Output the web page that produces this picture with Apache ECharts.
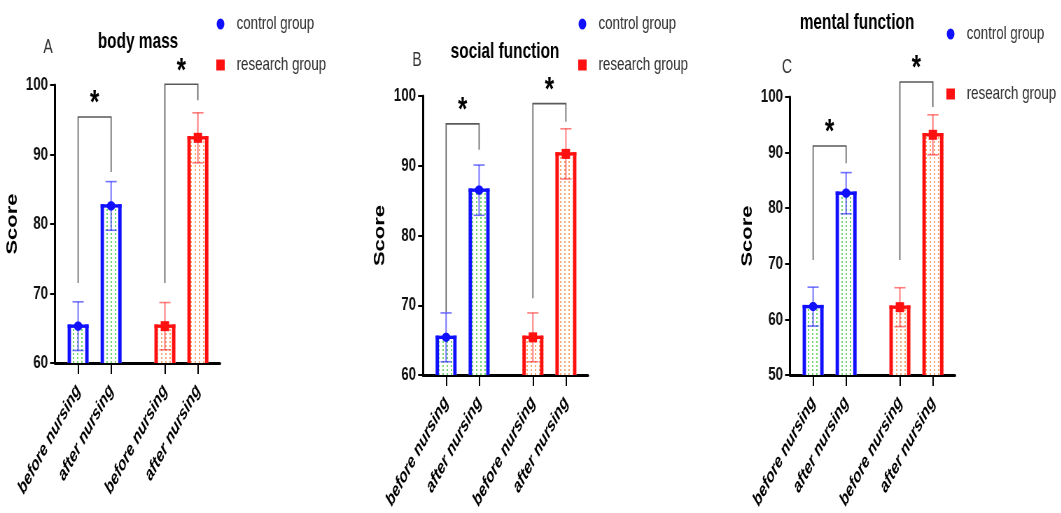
<!DOCTYPE html>
<html>
<head>
<meta charset="utf-8">
<script src="https://cdn.jsdelivr.net/npm/echarts@6/dist/echarts.min.js"></script>
<style>
  html, body { margin: 0; padding: 0; background: #fff; overflow: hidden; }
  #chart { width: 1516px; height: 513px; transform: scaleX(0.7); transform-origin: 0 0; }
</style>
</head>
<body>
<div id="chart"></div>
<script>
// ---------- data ----------
const categories = ['before nursing', 'after nursing', 'before nursing', 'after nursing'];
const panelTitles = ['body mass', 'social function', 'mental function'];
const panelLetters = ['A', 'B', 'C'];
const groupNames = ['control group', 'research group'];
const yAxisName = 'Score';
const yMins = [60, 60, 50];
const yMaxs = [100, 100, 100];
const yInterval = 10;

const bodyMassControl = [65.3, 82.6];
const bodyMassControlSD = [3.5, 3.5];
const bodyMassResearch = [65.3, 92.4];
const bodyMassResearchSD = [3.4, 3.6];

const socialControl = [65.4, 86.5];
const socialControlSD = [3.5, 3.6];
const socialResearch = [65.4, 91.7];
const socialResearchSD = [3.5, 3.6];

const mentalControl = [62.3, 82.7];
const mentalControlSD = [3.5, 3.7];
const mentalResearch = [62.2, 93.2];
const mentalResearchSD = [3.5, 3.6];

// significance brackets: [from category, to category, top, left end, right end]
const bodyMassBrackets = [[0, 1, 95.4, 71.5, 87.5], [2, 3, 100.1, 71.5, 97.8]];
const socialBrackets = [[0, 1, 96.0, 69.0, 92.3], [2, 3, 98.9, 71.0, 96.3]];
const mentalBrackets = [[0, 1, 91.2, 70.7, 88.1], [2, 3, 102.7, 70.7, 98.2]];
const sigMark = '*';

// ---------- layout / style ----------
const S = 0.7;                       // horizontal compression of the reference
const FONT = '"Liberation Sans", Arial, sans-serif';
const slotPos = [0.7, 1.7, 3.33, 4.33];  // x slot of each category on a 0..5 axis
const gridRects = [
  { left: 55 / S, top: 85, width: 165 / S, height: 278 },
  { left: 423 / S, top: 96, width: 165 / S, height: 279 },
  { left: 790 / S, top: 97, width: 165 / S, height: 278 }
];
const BLUE = '#1010ff', RED = '#ff1010';
const ERR_BLUE = 'rgba(40,40,255,0.65)', ERR_RED = 'rgba(255,40,40,0.6)';

function makePattern(color) {
  const c = document.createElement('canvas');
  c.width = 6; c.height = 4;
  const g = c.getContext('2d');
  g.fillStyle = '#ffffff'; g.fillRect(0, 0, 6, 4);
  g.fillStyle = color; g.fillRect(2, 1, 2, 2);
  return { image: c, repeat: 'repeat' };
}
const greenDots = makePattern('#6fd86f');
const orangeDots = makePattern('#f6a870');

const panels = [
  { control: bodyMassControl, controlSD: bodyMassControlSD, research: bodyMassResearch, researchSD: bodyMassResearchSD, brackets: bodyMassBrackets },
  { control: socialControl, controlSD: socialControlSD, research: socialResearch, researchSD: socialResearchSD, brackets: socialBrackets },
  { control: mentalControl, controlSD: mentalControlSD, research: mentalResearch, researchSD: mentalResearchSD, brackets: mentalBrackets }
];

function barRenderer(yMin, color, errColor, pattern, marker) {
  return function (params, api) {
    const x = api.value(0), mean = api.value(1), sd = api.value(2);
    const top = api.coord([x, mean]);
    const base = api.coord([x, yMin]);
    const hi = api.coord([x, mean + sd]);
    const lo = api.coord([x, mean - sd]);
    const cx = top[0], hw = 15, bw = 3.4 / S, th = 3.4;
    const h = base[1] - top[1];
    const children = [
      { type: 'rect', shape: { x: cx - hw, y: top[1], width: 2 * hw, height: h }, style: { fill: pattern } },
      { type: 'line', shape: { x1: cx, y1: hi[1], x2: cx, y2: lo[1] }, style: { stroke: errColor, lineWidth: 2 } },
      { type: 'line', shape: { x1: cx - 8, y1: hi[1], x2: cx + 8, y2: hi[1] }, style: { stroke: errColor, lineWidth: 1.6 } },
      { type: 'line', shape: { x1: cx - 8, y1: lo[1], x2: cx + 8, y2: lo[1] }, style: { stroke: errColor, lineWidth: 1.6 } },
      { type: 'rect', shape: { x: cx - hw, y: top[1] - th / 2, width: bw, height: h + th / 2 }, style: { fill: color } },
      { type: 'rect', shape: { x: cx + hw - bw, y: top[1] - th / 2, width: bw, height: h + th / 2 }, style: { fill: color } },
      { type: 'rect', shape: { x: cx - hw, y: top[1] - th / 2, width: 2 * hw, height: th }, style: { fill: color } }
    ];
    if (marker === 'circle') {
      children.push({ type: 'ellipse', shape: { cx: cx, cy: top[1], rx: 6, ry: 4.6 }, style: { fill: color } });
    } else {
      children.push({ type: 'rect', shape: { x: cx - 6, y: top[1] - 5, width: 12, height: 10 }, style: { fill: color } });
    }
    return { type: 'group', children: children };
  };
}

function bracketRenderer(params, api) {
  const a = slotPos[api.value(0)], b = slotPos[api.value(1)];
  const topV = api.value(2), lb = api.value(3), rb = api.value(4);
  const p1 = api.coord([a, lb]), p2 = api.coord([a, topV]), p3 = api.coord([b, topV]), p4 = api.coord([b, rb]);
  return {
    type: 'group',
    children: [
      { type: 'polyline', shape: { points: [p1, p2, p3, p4] }, style: { stroke: '#5a5a5a', lineWidth: 1.6, fill: null } },
      { type: 'text', x: (p2[0] + p3[0]) / 2, y: p2[1] - 13,
        style: { text: sigMark, fill: '#000', font: 'bold 34px ' + FONT, textAlign: 'center', textVerticalAlign: 'middle' } }
    ]
  };
}

const grids = [], xAxes = [], yAxes = [], series = [], legends = [], graphics = [];
const legendTops = [9, 9, 19], legendGaps = [21, 21, 40], legendLefts = [304, 821, 1347];
const titlePos = [[138, 42], [505, 52], [857, 23]];
const letterPos = [[48, 47], [417, 60], [787, 67]];

panels.forEach(function (p, i) {
  grids.push(Object.assign({ outerBoundsMode: 'none', containLabel: false }, gridRects[i]));
  xAxes.push({
    gridIndex: i, type: 'value', min: 0, max: 5,
    splitLine: { show: false },
    axisLine: { show: true, onZero: false, lineStyle: { color: '#000', width: 3 } },
    axisTick: { show: true, customValues: slotPos, length: 11, lineStyle: { color: '#000', width: 2 } },
    axisLabel: {
      show: true, customValues: slotPos, rotate: 52, margin: 24,
      fontFamily: FONT, fontSize: 19, fontWeight: 'bold', fontStyle: 'italic', color: '#000',
      formatter: function (v) {
        const k = slotPos.findIndex(function (s) { return Math.abs(s - v) < 1e-6; });
        return k >= 0 ? categories[k] : '';
      }
    }
  });
  yAxes.push({
    gridIndex: i, type: 'value', min: yMins[i], max: yMaxs[i], interval: yInterval,
    name: yAxisName, nameLocation: 'middle', nameGap: 50, nameRotate: 90,
    nameTextStyle: { fontFamily: FONT, fontSize: 22, fontWeight: 'bold', color: '#000' },
    splitLine: { show: false },
    axisLine: { show: true, onZero: false, lineStyle: { color: '#000', width: 3 } },
    axisTick: { show: true, length: 7, lineStyle: { color: '#000', width: 2 } },
    axisLabel: { margin: 10, fontFamily: FONT, fontSize: 19, fontWeight: 'bold', color: '#111' }
  });
  series.push({
    type: 'custom', name: groupNames[0], xAxisIndex: i, yAxisIndex: i,
    itemStyle: { color: BLUE },
    renderItem: barRenderer(yMins[i], BLUE, ERR_BLUE, greenDots, 'circle'),
    data: p.control.map(function (v, k) { return [slotPos[k], v, p.controlSD[k]]; })
  });
  series.push({
    type: 'custom', name: groupNames[1], xAxisIndex: i, yAxisIndex: i,
    itemStyle: { color: RED },
    renderItem: barRenderer(yMins[i], RED, ERR_RED, orangeDots, 'rect'),
    data: p.research.map(function (v, k) { return [slotPos[k + 2], v, p.researchSD[k]]; })
  });
  series.push({
    type: 'custom', name: 'significance', xAxisIndex: i, yAxisIndex: i, clip: false, z: 5,
    renderItem: bracketRenderer,
    data: p.brackets
  });
  legends.push({
    left: legendLefts[i], top: legendTops[i], orient: 'vertical', itemGap: legendGaps[i],
    itemWidth: 12, itemHeight: 11, selectedMode: false,
    data: [{ name: groupNames[0], icon: 'circle' }, { name: groupNames[1], icon: 'rect' }],
    textStyle: { fontFamily: FONT, fontSize: 19, color: '#333', lineHeight: 20, padding: [0, 0, 0, 12] }
  });
  graphics.push({
    type: 'text', x: titlePos[i][0] / S, y: titlePos[i][1],
    style: { text: panelTitles[i], fill: '#000', font: 'bold 22px ' + FONT, textAlign: 'center', textVerticalAlign: 'middle' }
  });
  graphics.push({
    type: 'text', x: letterPos[i][0] / S, y: letterPos[i][1],
    style: { text: panelLetters[i], fill: '#333', font: '20px ' + FONT, textAlign: 'center', textVerticalAlign: 'middle' }
  });
});

const chart = echarts.init(document.getElementById('chart'), null, { renderer: 'canvas' });
chart.setOption({
  animation: false,
  backgroundColor: '#fff',
  grid: grids, xAxis: xAxes, yAxis: yAxes,
  legend: legends, series: series, graphic: graphics
});
</script>
</body>
</html>
